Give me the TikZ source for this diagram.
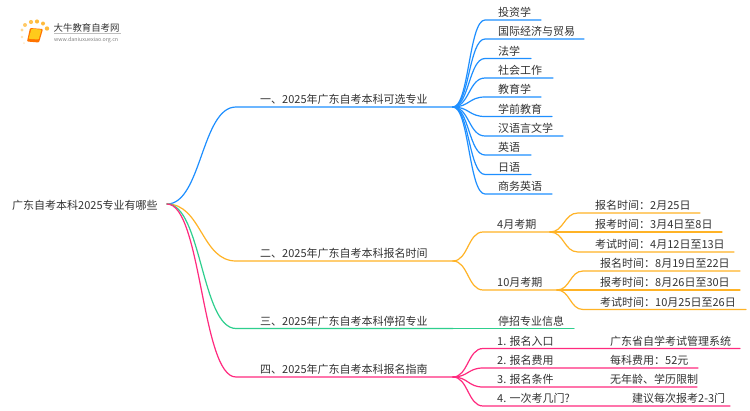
\documentclass[tikz,border=0pt]{standalone}
\usepackage{fontspec}
\setmainfont{Noto Sans CJK SC}
\definecolor{cblue}{HTML}{1E8FFF}
\definecolor{corange}{HTML}{FFB326}
\definecolor{cgreen}{HTML}{2ECF8E}
\definecolor{cpink}{HTML}{FF2A7F}
\definecolor{ctext}{HTML}{333333}
\tikzset{
  lab/.style={anchor=base west,inner sep=0pt,text=ctext,font=\fontsize{11}{13}\selectfont},
  wire/.style={line width=1.2pt,line cap=round},
  bluew/.style={wire,draw=cblue},
  orangew/.style={wire,draw=corange},
  greenw/.style={wire,draw=cgreen},
  pinkw/.style={wire,draw=cpink},
  spl/.style={to path={.. controls ($(\tikztostart)!0.5!(\tikztotarget|-\tikztostart)$) and ($(\tikztostart|-\tikztotarget)!0.5!(\tikztotarget)$) .. (\tikztotarget)}},
}
\usetikzlibrary{calc}
\begin{document}
\begin{tikzpicture}[x=1pt,y=-1pt]
\useasboundingbox (0,0) rectangle (750,410);
\fill[white] (0,0) rectangle (750,410);

% logo
\foreach \px/\py/\pr/\po in {24/43/1/.25,22/37/1.3/.35,22/30/1.7/.5,25/25/2/.7,31/22/2.1/.8,37/21.5/2.1/.9,43/23.5/2/.9,47/28.5/2.2/.9}
  \fill[corange,opacity=\po] (\px,\py) circle (\pr);
\fill[orange!90!red,rounded corners=1pt] (30,28) -- (43,29) -- (39,42.5) -- (27,41.5) -- cycle;
\fill[corange!70!yellow,rounded corners=.8pt] (31.5,28.8) -- (41.5,29.6) -- (38.6,39.5) -- (28.6,38.8) -- cycle;
\node[anchor=base west,inner sep=0pt,text=ctext,font=\fontsize{9.4}{11}\selectfont] (logotitle) at (53.5,31) {大牛教育自考网};
\draw[gray!50,line width=.5pt] (54,33.5) -- (121,33.5);
\node[anchor=base west,inner sep=0pt,text=gray,font=\fontsize{5.3}{6}\selectfont] (logourl) at (54,41) {www.daniuxuexiao.org.cn};

% root and main branches
\node[lab] (root) at (12,209) {广东自考本科2025专业有哪些};
\coordinate (r) at (167,204);
\foreach \nm/\yy/\st/\tx in {a/107/bluew/一、2025年广东自考本科可选专业,b/261/orangew/二、2025年广东自考本科报名时间,c/328.5/greenw/三、2025年广东自考本科停招专业,d/377/pinkw/四、2025年广东自考本科报名指南}{
  \coordinate (\nm0) at (236,\yy);
  \coordinate (\nm1) at (453,\yy);
  \node[lab] (\nm) at (260,\yy-3.5) {\tx};
  \draw[\st] (r) to[spl] (\nm0) -- (\nm1);
}

% blue leaves
\foreach \i/\yy/\ex/\tx in {1/20/541/投资学,2/39/584/国际经济与贸易,3/58.5/531/法学,4/78/553/社会工作,5/97/541/教育学,6/116.5/552/学前教育,7/136/563/汉语言文学,8/155/531/英语,9/174.5/531/日语,10/194/552/商务英语}{
  \coordinate (la\i) at (485,\yy);
  \coordinate (lb\i) at (\ex,\yy);
  \node[lab] (leaf\i) at (498,\yy-3.5) {\tx};
  \draw[bluew] (a1) to[spl] (la\i) -- (lb\i);
}

% orange sub-branches
\coordinate (apr0) at (483,232); \coordinate (apr1) at (550,232);
\coordinate (oct0) at (483,290); \coordinate (oct1) at (557,290);
\node[lab] (apr) at (497,228.5) {4月考期};
\node[lab] (oct) at (497,286.5) {10月考期};
\draw[orangew] (b1) to[spl] (apr0) -- (apr1);
\draw[orangew] (b1) to[spl] (oct0) -- (oct1);
\foreach \i/\yy/\ex/\tx in {1/213/700/报名时间：2月25日,2/232/722/报考时间：3月4日至8日,3/252/734/考试时间：4月12日至13日}{
  \coordinate (pa\i) at (578,\yy);
  \coordinate (pb\i) at (\ex,\yy);
  \node[lab] (p\i) at (595,\yy-3.5) {\tx};
  \draw[orangew] (apr1) to[spl] (pa\i) -- (pb\i);
}
\foreach \i/\yy/\ex/\tx in {1/271/740/报名时间：8月19日至22日,2/290/740/报考时间：8月26日至30日,3/309.5/746/考试时间：10月25日至26日}{
  \coordinate (qa\i) at (583,\yy);
  \coordinate (qb\i) at (\ex,\yy);
  \node[lab] (q\i) at (600,\yy-3.5) {\tx};
  \draw[orangew] (oct1) to[spl] (qa\i) -- (qb\i);
}

% green leaf
\coordinate (g1) at (574,328.5);
\node[lab] (gl) at (498,325) {停招专业信息};
\draw[greenw] (c1) -- (g1);

% pink leaves
\foreach \i/\yy/\ex/\xb/\tx/\ty in {1/348.5/740/610/1. 报名入口/广东省自学考试管理系统,2/368/698/610/2. 报名费用/每科费用：52元,3/387/697/610/3. 报名条件/无年龄、学历限制,4/406/730/632/4. 一次考几门?/建议每次报考2-3门}{
  \coordinate (sa\i) at (483,\yy);
  \coordinate (sb\i) at (\ex,\yy);
  \node[lab] (s\i) at (497,\yy-3.5) {\tx};
  \node[lab] (t\i) at (\xb,\yy-3.5) {\ty};
  \draw[pinkw] (d1) to[spl] (sa\i) -- (sb\i);
}
\end{tikzpicture}
\end{document}
